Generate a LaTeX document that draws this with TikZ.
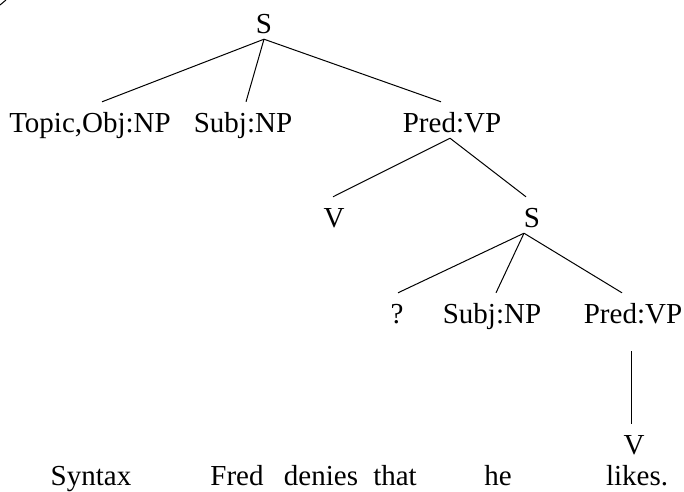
\documentclass[tikz,border=0pt]{standalone}
\usepackage{fontspec}
\setmainfont{Liberation Serif}
\begin{document}
\begin{tikzpicture}[x=1pt,y=-1pt,
  lbl/.style={anchor=base,inner sep=0pt,text height=30pt,text depth=6pt,
    font=\fontsize{29}{35}\selectfont},
  edge/.style={line width=1pt,black}]
\useasboundingbox (0,0) rectangle (684,491);
% small stray mark at top-left corner
\draw[line width=1pt] (0,5) -- (6,0);
% tree labels
\node[lbl] (S1) at (264,33) {S};
\node[lbl] (Top) at (90,132) {Topic,Obj:NP};
\node[lbl] (Sb1) at (243,132) {Subj:NP};
\node[lbl] (Pr1) at (452,132) {Pred:VP};
\node[lbl] (V1) at (334,227) {V};
\node[lbl] (S2) at (532,227) {S};
\node[lbl] (Q) at (397,323) {?};
\node[lbl] (Sb2) at (492,323) {Subj:NP};
\node[lbl] (Pr2) at (633,323) {Pred:VP};
\node[lbl] (V2) at (634,454) {V};
% sentence
\node[lbl] (w1) at (91,485) {Syntax};
\node[lbl] (w2) at (237,485) {Fred};
\node[lbl] (w3) at (321,485) {denies};
\node[lbl] (w4) at (395,485) {that};
\node[lbl] (w5) at (498,485) {he};
\node[lbl] (w6) at (637,485) {likes.};
% edges
\draw[edge] (S1.south) -- ([xshift=12pt]Top.north);
\draw[edge] (S1.south) -- ([xshift=3pt]Sb1.north);
\draw[edge] (S1.south) -- ([xshift=-11pt]Pr1.north);
\draw[edge] ([xshift=-2pt]Pr1.south) -- ([xshift=-1pt]V1.north);
\draw[edge] ([xshift=-2pt]Pr1.south) -- ([xshift=-6pt]S2.north);
\draw[edge] ([xshift=-8pt]S2.south) -- ([xshift=1pt]Q.north);
\draw[edge] ([xshift=-8pt]S2.south) -- ([xshift=4pt]Sb2.north);
\draw[edge] ([xshift=-8pt]S2.south) -- ([xshift=-11pt]Pr2.north);
\draw[edge] ([xshift=-2pt,yshift=-22pt]Pr2.south) -- ([xshift=-3pt]V2.north);
\end{tikzpicture}
\end{document}
